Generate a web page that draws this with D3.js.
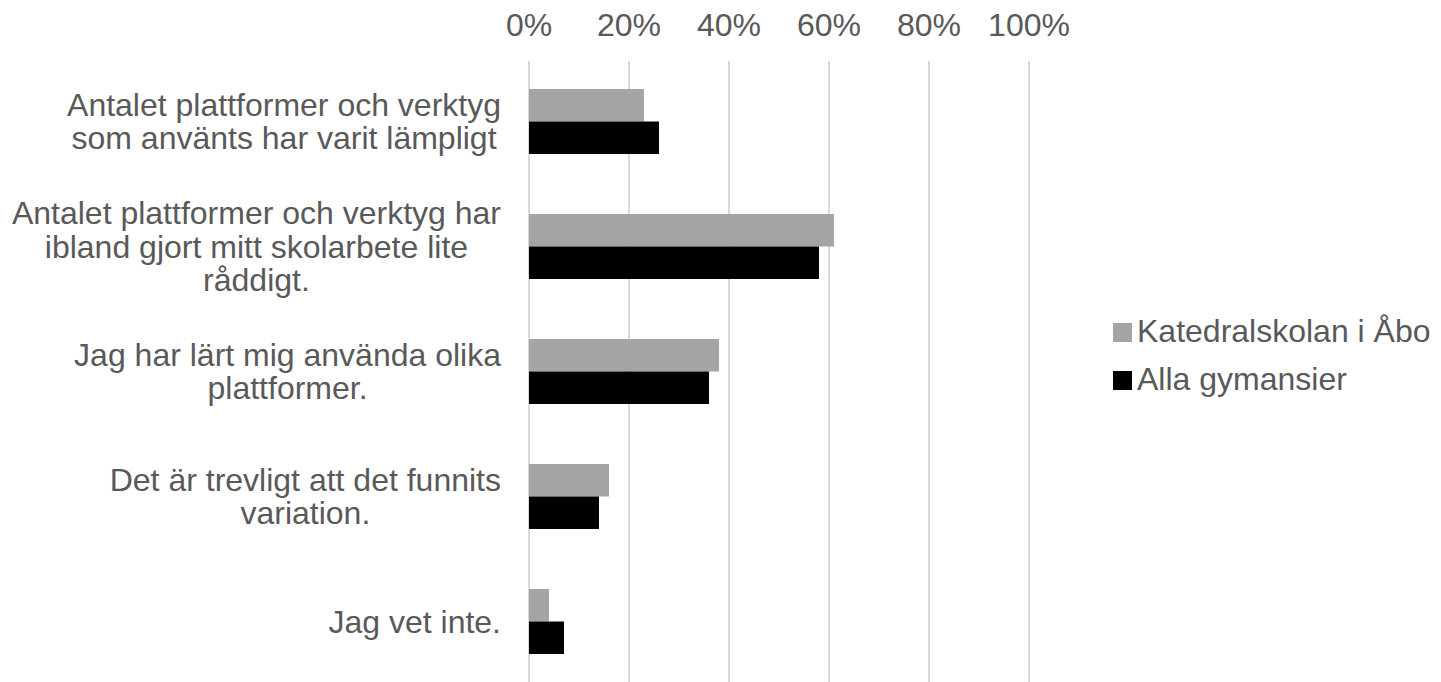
<!DOCTYPE html>
<html>
<head>
<meta charset="utf-8">
<script src="https://cdn.jsdelivr.net/npm/d3@7"></script>
<style>
  body { margin: 0; background: #fff; }
  text { font-family: "Liberation Sans", Arial, sans-serif; fill: #595959; }
</style>
</head>
<body>
<div id="chart"></div>
<script>
// data
const categories = [
  ["Antalet plattformer och verktyg", "som använts har varit lämpligt"],
  ["Antalet plattformer och verktyg har", "ibland gjort mitt skolarbete lite", "råddigt."],
  ["Jag har lärt mig använda olika", "plattformer."],
  ["Det är trevligt att det funnits", "variation."],
  ["Jag vet inte."]
];
const seriesNames = ["Katedralskolan i Åbo", "Alla gymansier"];
const katedral = [0.23, 0.61, 0.38, 0.16, 0.04];
const alla = [0.26, 0.58, 0.36, 0.14, 0.07];
const ticks = [0, 0.2, 0.4, 0.6, 0.8, 1];
const colors = ["#a5a5a5", "#000000"];

const width = 1441, height = 682;
const svg = d3.select("#chart").append("svg")
  .attr("width", width)
  .attr("height", height);

const x = d3.scaleLinear().domain([0, 1]).range([529, 1029]);
const y = d3.scaleBand().domain(d3.range(categories.length)).range([59, 684]);
const barH = 32.5;

// gridlines
svg.selectAll("line.grid")
  .data(ticks)
  .enter().append("line")
  .attr("class", "grid")
  .attr("x1", d => x(d)).attr("x2", d => x(d))
  .attr("y1", 61).attr("y2", height)
  .attr("stroke", "#d9d9d9")
  .attr("stroke-width", 2);

// tick labels on top
svg.selectAll("text.tick")
  .data(ticks)
  .enter().append("text")
  .attr("class", "tick")
  .attr("x", d => x(d))
  .attr("y", 36)
  .attr("text-anchor", "middle")
  .style("font-size", "32px")
  .text(d3.format(".0%"));

// bars
const series = [katedral, alla];
series.forEach((vals, s) => {
  svg.selectAll("rect.s" + s)
    .data(vals)
    .enter().append("rect")
    .attr("class", "s" + s)
    .attr("x", x(0))
    .attr("y", (d, i) => y(i) + y.bandwidth() / 2 - barH + s * barH)
    .attr("width", d => x(d) - x(0))
    .attr("height", barH)
    .attr("fill", colors[s]);
});

// category labels, lines centred in a block that is right aligned
const lineH = 33.5, rightEdge = 501;
categories.forEach((lines, i) => {
  const g = svg.append("g");
  const cy = y(i) + y.bandwidth() / 2;
  const t = g.selectAll("text")
    .data(lines)
    .enter().append("text")
    .style("font-size", "32px")
    .attr("text-anchor", "middle")
    .attr("y", (d, j) => cy + (j - (lines.length - 1) / 2) * lineH)
    .attr("dy", "0.35em")
    .text(d => d);
  let w = 0;
  t.each(function () { w = Math.max(w, this.getComputedTextLength()); });
  t.attr("x", rightEdge - w / 2);
});

// legend
const legend = svg.selectAll("g.legend")
  .data(seriesNames)
  .enter().append("g")
  .attr("class", "legend")
  .attr("transform", (d, i) => `translate(1113, ${323 + i * 48})`);
legend.append("rect")
  .attr("width", 19).attr("height", 19)
  .attr("fill", (d, i) => colors[i]);
legend.append("text")
  .attr("x", 24).attr("y", 19)
  .style("font-size", "32px")
  .text(d => d);
</script>
</body>
</html>
